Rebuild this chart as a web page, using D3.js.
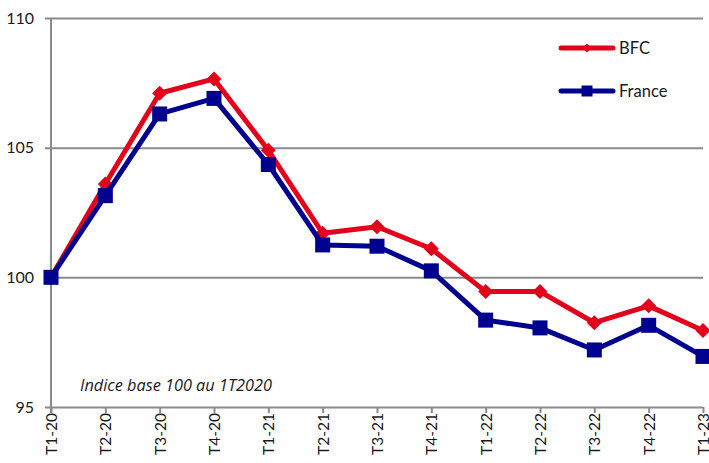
<!DOCTYPE html>
<html>
<head>
<meta charset="utf-8">
<script src="https://cdn.jsdelivr.net/npm/d3@7"></script>
<style>
  body { margin: 0; background: #fff; }
  svg text { font-family: Lato, "Open Sans", sans-serif; fill: #1a1a1a; }
  svg text.note { font-family: "Open Sans", sans-serif; }
</style>
</head>
<body>
<svg id="chart" width="709" height="463"></svg>
<script>
// Quarterly index, base 100 = Q1 2020
const quarters = ["T1-20","T2-20","T3-20","T4-20","T1-21","T2-21","T3-21","T4-21","T1-22","T2-22","T3-22","T4-22","T1-23"];
const bfc    = [100, 103.6, 107.1, 107.65, 104.9, 101.7, 101.95, 101.1, 99.45, 99.45, 98.25, 98.9, 97.95];
const france = [100, 103.15, 106.3, 106.9, 104.35, 101.25, 101.2, 100.25, 98.35, 98.05, 97.2, 98.15, 96.95];
const yTicks = [95, 100, 105, 110];

const svg = d3.select("#chart");
const plotLeft = 51, plotRight = 703, plotTop = 18, plotBottom = 407;

const x = d3.scalePoint().domain(quarters).range([plotLeft, plotRight]);
const y = d3.scaleLinear().domain([95, 110]).range([plotBottom, plotTop]);

const grid = "#8a8a8a";

// horizontal gridlines + y ticks
svg.append("g")
  .attr("transform", `translate(${plotLeft},0)`)
  .call(d3.axisLeft(y).tickValues(yTicks).tickSize(-(plotRight - plotLeft)).tickSizeOuter(0).tickPadding(12))
  .call(g => g.select(".domain").remove())
  .call(g => g.selectAll(".tick line").attr("stroke", grid).attr("stroke-width", 2).attr("x1", -6))
  .call(g => g.selectAll(".tick text").attr("font-size", 16).attr("dx", -5));

// vertical axis line
svg.append("line")
  .attr("x1", plotLeft).attr("x2", plotLeft).attr("y1", plotTop).attr("y2", plotBottom + 6)
  .attr("stroke", grid).attr("stroke-width", 2);

// x axis with labels rotated to read upwards
svg.append("g")
  .attr("transform", `translate(0,${plotBottom})`)
  .call(d3.axisBottom(x).tickSize(6).tickSizeOuter(0))
  .call(g => g.select(".domain").remove())
  .call(g => g.selectAll(".tick line").attr("stroke", grid).attr("stroke-width", 2))
  .call(g => g.selectAll(".tick text")
    .attr("font-size", 15.5)
    .attr("transform", "rotate(-90)")
    .attr("text-anchor", "end")
    .attr("x", -6)
    .attr("y", 0)
    .attr("dy", "0.35em"));

const series = [
  { name: "BFC", values: bfc, color: "#e2001a", marker: "diamond" },
  { name: "France", values: france, color: "#00008f", marker: "square" }
];

const line = d3.line().x((d, i) => x(quarters[i])).y(d => y(d));

function drawMarker(sel, type, color) {
  if (type === "diamond") {
    sel.append("path").attr("d", "M0,-7.5L7.5,0L0,7.5L-7.5,0Z").attr("fill", color);
  } else {
    sel.append("rect").attr("x", -7.5).attr("y", -7.5).attr("width", 15).attr("height", 15).attr("fill", color);
  }
}

series.forEach(s => {
  svg.append("path")
    .datum(s.values)
    .attr("d", line)
    .attr("fill", "none")
    .attr("stroke", s.color)
    .attr("stroke-width", 5)
    .attr("stroke-linejoin", "round");
  s.values.forEach((v, i) => {
    const g = svg.append("g").attr("transform", `translate(${x(quarters[i])},${y(v)})`);
    drawMarker(g, s.marker, s.color);
  });
});

// legend
const legend = svg.append("g");
series.forEach((s, i) => {
  const ly = 48 + i * 43;
  legend.append("line").attr("x1", 561).attr("x2", 613).attr("y1", ly).attr("y2", ly)
    .attr("stroke", s.color).attr("stroke-width", 5).attr("stroke-linecap", "round");
  const g = legend.append("g").attr("transform", `translate(587,${ly})`);
  if (s.marker === "diamond") {
    g.append("path").attr("d", "M0,-4.5L4.5,0L0,4.5L-4.5,0Z").attr("fill", s.color);
  } else {
    g.append("rect").attr("x", -5.5).attr("y", -5.5).attr("width", 11).attr("height", 11).attr("fill", s.color);
  }
  legend.append("text").attr("x", 619).attr("y", ly).attr("dy", "0.35em")
    .attr("font-size", 16.5).text(s.name);
});

// note
svg.append("text").attr("class", "note").attr("x", 80).attr("y", 391)
  .attr("font-size", 16.3).attr("font-style", "italic")
  .text("Indice base 100 au 1T2020");
</script>
</body>
</html>
